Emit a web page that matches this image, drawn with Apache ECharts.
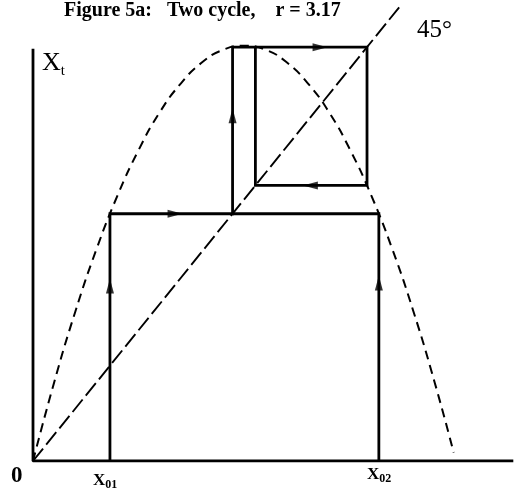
<!DOCTYPE html>
<html>
<head>
<meta charset="utf-8">
<script src="https://cdn.jsdelivr.net/npm/echarts@6/dist/echarts.min.js"></script>
<style>
  html, body { margin: 0; padding: 0; background: #fff; }
  #chart { width: 529px; height: 492px; }
</style>
</head>
<body>
<div id="chart"></div>
<script>
// Logistic map x(t+1) = r x(t) (1 - x(t)) with r = 3.17: two-cycle cobweb
const r = 3.17;
const curveX = [0, 0.05, 0.1, 0.15, 0.2, 0.25, 0.3, 0.35, 0.4, 0.45, 0.5,
                0.55, 0.6, 0.65, 0.7, 0.75, 0.8, 0.85, 0.9, 0.95, 0.995];
const curveY = [0, 0.15, 0.285, 0.404, 0.507, 0.594, 0.666, 0.721, 0.761, 0.785, 0.7925,
                0.785, 0.761, 0.721, 0.666, 0.594, 0.507, 0.404, 0.285, 0.15, 0.016];
// starting points on the horizontal axis
const x01 = 0.182;
const x02 = 0.818;
// cobweb iterates: value after first step, and the two-cycle pair
const step1 = 0.472;
const cycleHigh = 0.790;
const cycleLow = 0.526;
// arrow heads: [x, y, direction]
const arrows = [
  [0.182, 0.334, 'up'],
  [0.336, 0.472, 'right'],
  [0.472, 0.659, 'up'],
  [0.679, 0.790, 'right'],
  [0.656, 0.526, 'left'],
  [0.818, 0.340, 'up']
];
const axisXMax = 1.136;
const axisYMax = 0.787;
const diagonalEnd = 0.87;

const pathMain = [
  [x01, 0], [x01, step1], [step1, step1], [step1, cycleHigh],
  [cycleHigh, cycleHigh], [cycleHigh, cycleLow], [cycleLow, cycleLow], [cycleLow, cycleHigh]
];
const pathSecond = [[x02, 0], [x02, step1], [step1, step1]];
const rot = { up: 0, right: -90, left: 90, down: 180 };

const chart = echarts.init(document.getElementById('chart'), null, { renderer: 'canvas' });
const serif = '"Liberation Serif", "DejaVu Serif", serif';

chart.setOption({
  animation: false,
  backgroundColor: '#fff',
  grid: { left: 33, right: 14, top: 0, bottom: 31 },
  xAxis: { type: 'value', min: 0, max: 1.14, show: false },
  yAxis: { type: 'value', min: 0, max: 0.88, show: false },
  series: [
    {
      type: 'line', name: 'axes', symbol: 'none',
      data: [[0, axisYMax], [0, 0], [axisXMax, 0]],
      lineStyle: { color: '#000', width: 2.8 }
    },
    {
      type: 'line', name: 'map', symbol: 'none', smooth: true,
      data: curveX.map((x, i) => [x, curveY[i]]),
      lineStyle: { color: '#000', width: 2, type: [9, 6] }
    },
    {
      type: 'line', name: 'diagonal', symbol: 'none',
      data: [[0, 0], [diagonalEnd, diagonalEnd]],
      lineStyle: { color: '#000', width: 1.9, type: [16, 5] }
    },
    {
      type: 'line', name: 'cobweb', symbol: 'none',
      data: pathMain,
      lineStyle: { color: '#000', width: 2.8, join: 'miter' }
    },
    {
      type: 'line', name: 'cobweb2', symbol: 'none',
      data: pathSecond,
      lineStyle: { color: '#000', width: 2.8, join: 'miter' }
    },
    {
      type: 'scatter', name: 'arrows',
      symbol: 'triangle', symbolSize: [8, 15],
      itemStyle: { color: '#000' },
      data: arrows.map(a => ({ value: [a[0], a[1]], symbolRotate: rot[a[2]] }))
    }
  ],
  graphic: [
    {
      type: 'text', x: 64, y: 1,
      style: { text: 'Figure 5a:   Two cycle,    r = 3.17', font: 'bold 20px ' + serif, fill: '#000' }
    },
    {
      type: 'text', left: 417, top: 18,
      style: { text: '45°', font: '25px ' + serif, fill: '#000' }
    },
    {
      type: 'text', left: 42, top: 50,
      style: {
        text: '{b|X}{s|t}',
        rich: {
          b: { font: '26px ' + serif, fill: '#000' },
          s: { font: '15px ' + serif, fill: '#000', padding: [16, 0, 0, 0] }
        }
      }
    },
    {
      type: 'text', left: 11, top: 465,
      style: { text: '0', font: 'bold 23px ' + serif, fill: '#000' }
    },
    {
      type: 'text', left: 93, top: 472,
      style: {
        text: '{b|X}{s|01}',
        rich: {
          b: { font: 'bold 17px ' + serif, fill: '#000' },
          s: { font: 'bold 12px ' + serif, fill: '#000', padding: [8, 0, 0, 0] }
        }
      }
    },
    {
      type: 'text', left: 367, top: 466,
      style: {
        text: '{b|X}{s|02}',
        rich: {
          b: { font: 'bold 17px ' + serif, fill: '#000' },
          s: { font: 'bold 12px ' + serif, fill: '#000', padding: [8, 0, 0, 0] }
        }
      }
    }
  ]
});
</script>
</body>
</html>
